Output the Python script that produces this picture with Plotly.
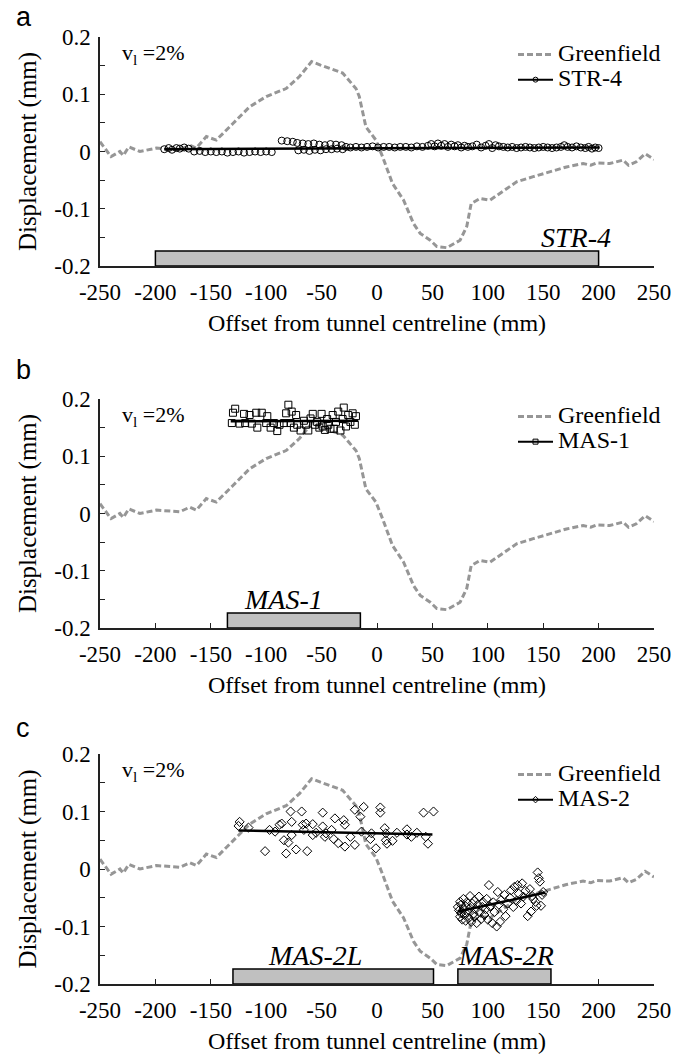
import plotly.graph_objects as go

# ---------------- data ----------------
X_TICKS = [-250, -200, -150, -100, -50, 0, 50, 100, 150, 200, 250]
X_TICKTEXT = ["-250", "-200", "-150", "-100", "-50", "0", "50", "100", "150", "200", "250"]
Y_TICKS = [-0.2, -0.1, 0, 0.1, 0.2]
Y_TICKTEXT = ["-0.2", "-0.1", "0", "0.1", "0.2"]
Y_MINOR = [-0.15, -0.05, 0.05, 0.15]

GF_X = [-250, -240, -232, -229, -224, -214, -199, -178, -169, -163, -154, -145, -130, -115,
        -100, -82, -70, -59, -51, -39, -31, -19, -16, -10, -1, 5, 14, 24, 33, 39, 48, 54,
        63, 75, 81, 85, 93, 102, 111, 126, 141, 156, 171, 186, 193, 198, 210, 222, 227,
        234, 242, 250]
GF_Y = [0.017, -0.009, 0.0, -0.007, 0.008, 0.0, 0.006, 0.003, 0.011, 0.006, 0.026, 0.020,
        0.049, 0.078, 0.096, 0.110, 0.131, 0.157, 0.151, 0.142, 0.137, 0.110, 0.096, 0.043,
        0.020, -0.009, -0.056, -0.085, -0.126, -0.143, -0.155, -0.166, -0.168, -0.155,
        -0.131, -0.091, -0.082, -0.085, -0.073, -0.053, -0.044, -0.035, -0.027, -0.021,
        -0.024, -0.020, -0.021, -0.015, -0.024, -0.018, -0.004, -0.014]

STR4_X = [-192, -188, -185, -181, -178, -174, -170,
          -165, -160, -155, -150, -145, -140, -135, -130, -125, -120, -115, -110, -105, -100, -95,
          -86, -81, -76,
          -72, -71, -67, -66, -62, -61, -57, -56, -52, -51, -47, -46, -42, -41, -37, -36, -32, -31, -28,
          -24, -19, -14, -9, -4, 1, 6, 11, 16, 21,
          26, 31, 36, 41, 46, 49, 52, 55, 58, 61, 64, 67, 70, 73, 76, 79, 82, 86, 90, 94,
          98, 101, 104, 107, 110, 114, 118, 122, 126, 130, 134, 138, 142, 146, 150, 154, 158,
          162, 166, 169, 172, 176, 180, 184, 188, 191, 194, 197, 200]
STR4_Y = [0.004, 0.006, 0.003, 0.006, 0.005, 0.007, 0.005,
          0.000, 0.001, -0.001, 0.000, -0.001, 0.000, -0.002, -0.001, 0.000, -0.002, -0.001, 0.000, -0.001, 0.000, -0.001,
          0.019, 0.018, 0.017,
          0.015, 0.002, 0.014, 0.003, 0.013, 0.001, 0.014, 0.003, 0.012, 0.002, 0.011, 0.004, 0.013, 0.004, 0.012, 0.005, 0.011, 0.004, 0.008,
          0.007, 0.008, 0.007, 0.008, 0.009, 0.007, 0.008, 0.008, 0.007, 0.008,
          0.008, 0.007, 0.009, 0.008, 0.010, 0.013, 0.009, 0.014, 0.010, 0.013, 0.008, 0.012, 0.009, 0.011, 0.007, 0.010, 0.008, 0.009, 0.012, 0.007,
          0.010, 0.013, 0.006, 0.011, 0.009, 0.008, 0.007, 0.008, 0.006, 0.007, 0.008, 0.007, 0.006, 0.007, 0.008, 0.007, 0.006,
          0.007, 0.008, 0.011, 0.008, 0.007, 0.009, 0.007, 0.006, 0.008, 0.005, 0.007, 0.006]
STR4_FIT_X = [-192, 201]
STR4_FIT_Y = [0.004, 0.007]

MAS1_X = [-131, -130, -128, -124, -120, -119, -115, -113, -109, -108, -104, -100, -99, -96,
          -93, -90, -88, -84, -82, -80, -78, -77, -75, -73, -72, -69, -66, -64, -62, -60,
          -58, -56, -54, -52, -50, -49, -47, -45, -44, -42, -40, -39, -37, -35, -33, -31,
          -30, -28, -26, -24, -22, -20, -19]
MAS1_Y = [0.158, 0.176, 0.183, 0.157, 0.174, 0.158, 0.172, 0.157, 0.176, 0.150, 0.176, 0.158,
          0.170, 0.150, 0.158, 0.144, 0.155, 0.158, 0.175, 0.190, 0.158, 0.178, 0.150, 0.172,
          0.155, 0.145, 0.162, 0.155, 0.145, 0.166, 0.174, 0.155, 0.160, 0.150, 0.174, 0.152,
          0.146, 0.165, 0.155, 0.148, 0.172, 0.148, 0.160, 0.178, 0.145, 0.165, 0.185, 0.152,
          0.172, 0.160, 0.175, 0.155, 0.170]
MAS1_FIT_X = [-132, -17]
MAS1_FIT_Y = [0.161, 0.162]

MAS2L_X = [-125, -124, -116, -101, -97, -92, -88, -86, -84, -82, -80, -78, -77, -77, -73,
           -68, -67, -66, -64, -63, -58, -58, -55, -49, -49, -47, -46, -41, -39, -38, -35,
           -30, -29, -29, -24, -20, -20, -15, -14, -12, -6, -5, -1, 3, 3, 7, 8, 8, 9, 14,
           18, 27, 27, 31, 36, 42, 44, 46, 51]
MAS2L_Y = [0.075, 0.082, 0.072, 0.031, 0.068, 0.065, 0.077, 0.079, 0.050, 0.027, 0.046,
           0.100, 0.082, 0.059, 0.034, 0.100, 0.077, 0.068, 0.079, 0.031, 0.078, 0.059,
           0.063, 0.074, 0.098, 0.056, 0.062, 0.068, 0.052, 0.088, 0.045, 0.085, 0.077,
           0.039, 0.056, 0.103, 0.042, 0.091, 0.065, 0.108, 0.052, 0.062, 0.036, 0.107,
           0.098, 0.071, 0.062, 0.050, 0.044, 0.049, 0.063, 0.069, 0.060, 0.056, 0.063,
           0.098, 0.056, 0.044, 0.100]
MAS2L_FIT_X = [-125, 50]
MAS2L_FIT_Y = [0.067, 0.060]

MAS2R_X = [73, 74, 75, 75, 76, 76, 77, 78, 78, 79, 80, 80, 81, 82, 83, 84, 84, 85, 86, 87,
           88, 88, 89, 90, 91, 92, 93, 94, 95, 96, 97, 98, 99, 100, 101, 102, 104, 105, 106,
           108, 109, 110, 111, 112, 114, 115, 116, 118, 120, 121, 123, 124, 126, 127, 128,
           130, 131, 132, 134, 136, 138, 139, 140, 141, 143, 144, 145, 146, 147, 148, 149, 150]
MAS2R_Y = [-0.066, -0.072, -0.057, -0.083, -0.077, -0.062, -0.088, -0.070, -0.052, -0.080,
           -0.065, -0.090, -0.058, -0.075, -0.085, -0.047, -0.068, -0.092, -0.060, -0.078,
           -0.055, -0.083, -0.070, -0.094, -0.062, -0.048, -0.075, -0.087, -0.066, -0.058,
           -0.080, -0.070, -0.052, -0.088, -0.028, -0.065, -0.094, -0.058, -0.075, -0.100,
           -0.040, -0.062, -0.092, -0.054, -0.070, -0.045, -0.082, -0.060, -0.050, -0.037,
           -0.066, -0.031, -0.055, -0.028, -0.043, -0.060, -0.025, -0.048, -0.038, -0.082,
           -0.035, -0.074, -0.047, -0.052, -0.057, -0.064, -0.006, -0.016, -0.022, -0.064,
           -0.045, -0.040]
MAS2R_FIT_X = [73, 152]
MAS2R_FIT_Y = [-0.074, -0.041]

# structure footprints (x extents, mm) and their labels
BAR_A = [-200, 200]
BAR_B = [-135, -15]
BAR_C_L = [-130, 51]
BAR_C_R = [73, 157]
BAR_TOP = -0.174
BAR_BOTTOM = -0.2

# ---------------- styling ----------------
SERIF = "Liberation Serif, serif"
SANS = "Liberation Sans, Arial, sans-serif"
GF_COLOR = "#969696"
AX_COLOR = "#222222"

X_DOM = [100 / 686, 654 / 686]
H = 1059
Y_DOMS = [[1 - 266 / H, 1 - 37 / H], [1 - 628 / H, 1 - 399 / H], [1 - 984 / H, 1 - 754 / H]]

fig = go.Figure()

def big(name):
    return '<span style="font-size:24px">' + name + '</span>'

panels = [
    dict(name="STR-4", sym="circle-open", size=7, x=STR4_X, y=STR4_Y,
         fx=STR4_FIT_X, fy=STR4_FIT_Y),
    dict(name="MAS-1", sym="square-open", size=7, x=MAS1_X, y=MAS1_Y,
         fx=MAS1_FIT_X, fy=MAS1_FIT_Y),
    dict(name="MAS-2", sym="diamond-open", size=7, x=MAS2L_X + MAS2R_X, y=MAS2L_Y + MAS2R_Y,
         fx=None, fy=None),
]

for i, p in enumerate(panels):
    sfx = "" if i == 0 else str(i + 1)
    xa, ya = "x" + sfx, "y" + sfx
    leg = "legend" + sfx
    fig.add_trace(go.Scatter(x=GF_X, y=GF_Y, xaxis=xa, yaxis=ya, mode="lines",
                             line=dict(color=GF_COLOR, width=3, dash="6px,3px"),
                             name=big("Greenfield"), legend=leg, showlegend=True))
    fig.add_trace(go.Scatter(x=p["x"], y=p["y"], xaxis=xa, yaxis=ya, mode="markers",
                             marker=dict(symbol=p["sym"], size=p["size"], color="black",
                                         line=dict(width=1)),
                             showlegend=False, legend=leg))
    if p["fx"] is not None:
        fits = [(p["fx"], p["fy"])]
    else:
        fits = [(MAS2L_FIT_X, MAS2L_FIT_Y), (MAS2R_FIT_X, MAS2R_FIT_Y)]
    for fx, fy in fits:
        fig.add_trace(go.Scatter(x=fx, y=fy, xaxis=xa, yaxis=ya, mode="lines",
                                 line=dict(color="black", width=2.5),
                                 showlegend=False, legend=leg))
    # legend-only entry (line + marker)
    fig.add_trace(go.Scatter(x=[None], y=[None], xaxis=xa, yaxis=ya, mode="lines+markers",
                             line=dict(color="black", width=2),
                             marker=dict(symbol=p["sym"], size=5, color="black",
                                         line=dict(width=1)),
                             name=big(p["name"]), legend=leg, showlegend=True))

layout = dict(width=686, height=1059, margin=dict(l=0, r=0, t=0, b=0),
              template="none", paper_bgcolor="white", plot_bgcolor="white",
              showlegend=True)

for i in range(3):
    sfx = "" if i == 0 else str(i + 1)
    layout["xaxis" + sfx] = dict(
        domain=X_DOM, anchor="y" + sfx, range=[-250, 250], tickmode="array",
        tickvals=X_TICKS, ticktext=X_TICKTEXT, ticks="inside", ticklen=5, tickwidth=1.2,
        tickcolor=AX_COLOR, showline=True, linecolor=AX_COLOR, linewidth=1.5,
        showgrid=False, zeroline=False, ticklabelstandoff=5,
        tickfont=dict(family=SERIF, size=23, color="black"),
        title=dict(text="Offset from tunnel centreline (mm)",
                   font=dict(family=SERIF, size=24, color="black"), standoff=10))
    layout["yaxis" + sfx] = dict(
        domain=Y_DOMS[i], anchor="x" + sfx, range=[-0.2, 0.2], tickmode="array",
        tickvals=Y_TICKS, ticktext=Y_TICKTEXT, ticks="inside", ticklen=5, tickwidth=1.2,
        tickcolor=AX_COLOR, showline=True, linecolor=AX_COLOR, linewidth=1.5,
        showgrid=False, zeroline=False, ticklabelstandoff=3,
        minor=dict(tickvals=Y_MINOR, ticks="inside", ticklen=5, tickwidth=1.2,
                   tickcolor=AX_COLOR, showgrid=False),
        tickfont=dict(family=SERIF, size=23, color="black"),
        title=dict(text="Displacement (mm)",
                   font=dict(family=SERIF, size=25, color="black"), standoff=10))
    layout["legend" + sfx] = dict(
        x=513 / 686, xanchor="left", y=[1 - 37 / H, 1 - 399 / H, 1 - 757 / H][i],
        yanchor="top", bgcolor="rgba(0,0,0,0)", borderwidth=0,
        font=dict(family=SERIF, size=17, color="black"), tracegroupgap=0,
        itemwidth=35)

fig.update_layout(**layout)

# bars
bars = [("x", "y", BAR_A), ("x2", "y2", BAR_B), ("x3", "y3", BAR_C_L), ("x3", "y3", BAR_C_R)]
for xr, yr, b in bars:
    fig.add_shape(type="rect", xref=xr, yref=yr, x0=b[0], x1=b[1], y0=BAR_BOTTOM, y1=BAR_TOP,
                  fillcolor="#c0c0c0", line=dict(color="black", width=1.5), layer="above")

# bar labels
labels = [("x", "y", 180, "STR-4"), ("x2", "y2", -84, "MAS-1"),
          ("x3", "y3", -56, "MAS-2L"), ("x3", "y3", 116, "MAS-2R")]
for xr, yr, xv, txt in labels:
    fig.add_annotation(xref=xr, yref=yr, x=xv, y=BAR_TOP, text="<i>" + txt + "</i>",
                       showarrow=False, xanchor="center", yanchor="bottom", yshift=-4,
                       font=dict(family=SERIF, size=28, color="black"))

# v_l = 2% and panel letters
for i, (yr, xr) in enumerate([("y", "x"), ("y2", "x2"), ("y3", "x3")]):
    fig.add_annotation(xref=xr, yref=yr, x=-232, y=0.17, text="v<sub>l</sub> =2%",
                       showarrow=False, xanchor="left", yanchor="middle",
                       font=dict(family=SERIF, size=22, color="black"))
for letter, ypx in [("a", 17), ("b", 370), ("c", 728)]:
    fig.add_annotation(xref="paper", yref="paper", x=14 / 686, y=1 - ypx / H, text=letter,
                       showarrow=False, xanchor="left", yanchor="middle",
                       font=dict(family=SANS, size=27, color="black"))

fig.write_html("out.html")
